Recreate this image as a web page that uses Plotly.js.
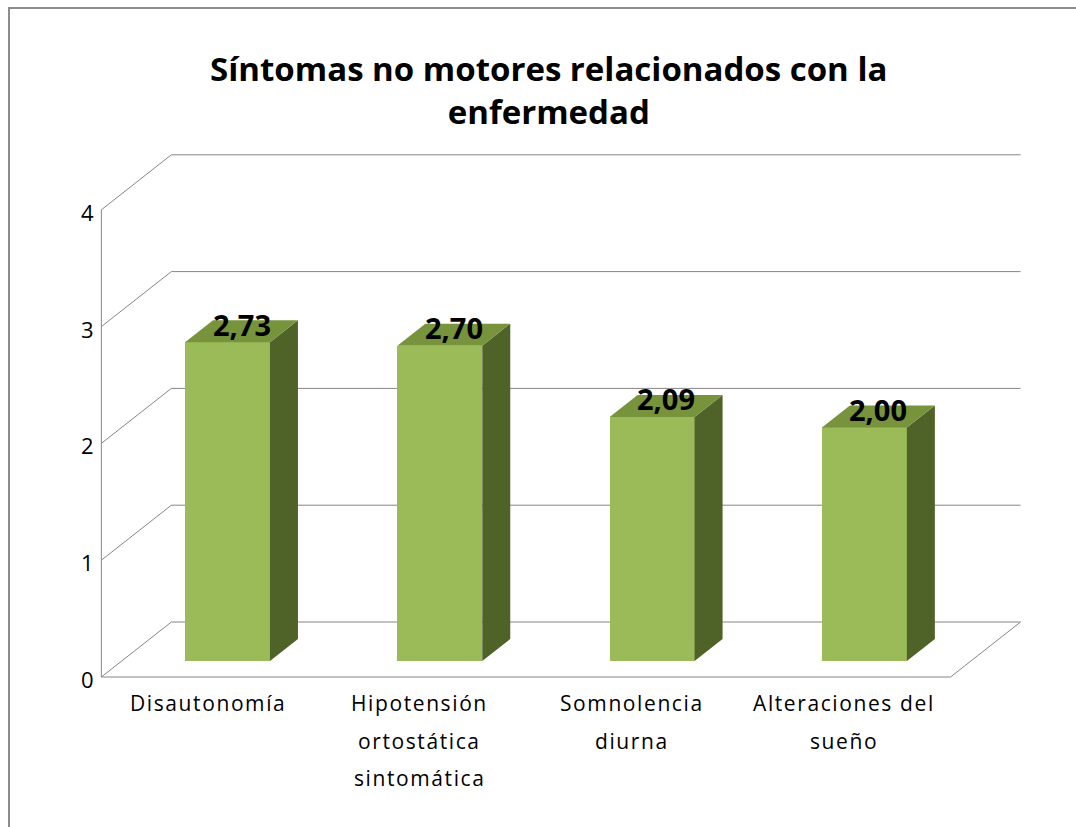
<!DOCTYPE html>
<html>
<head>
<meta charset="utf-8">
<script src="https://cdn.plot.ly/plotly-3.0.1.min.js"></script>
<style>html,body{margin:0;padding:0;background:#fff;}#chart{width:1076px;height:827px;}</style>
</head>
<body>
<div id="chart"></div>
<script>
// ---- data ----
const categories = ["Disautonomía", "Hipotensión<br>ortostática<br>sintomática", "Somnolencia<br>diurna", "Alteraciones del<br>sueño"];
const values = [2.73, 2.70, 2.09, 2.00];
const yTickValues = [0, 1, 2, 3, 4];
const yTickLabels = ["0", "1", "2", "3", "4"];
const chartTitle = "Síntomas no motores relacionados con la<br>enfermedad";

// ---- layout constants (pixel geometry) ----
const W = 1076, H = 827;
const ml = 26, mr = 10, mt = 140, mb = 127;
const X0 = 227.5, XU = 212.3;   // px of first category, px per category
const Y0 = 661, YU = 116.8;     // px of value 0 (bar plane), px per unit
const xRange = [(ml - X0) / XU, (W - mr - X0) / XU];
const yRange = [(Y0 - (H - mb)) / YU, (Y0 - mt) / YU];

// oblique depth offsets (in axis units)
const FDX = -20 / XU, FDY = -16 / YU;   // front plane relative to bar plane
const BDX = 50 / XU, BDY = 39 / YU;     // back wall relative to bar plane
const DDX = 28 / XU, DDY = 22 / YU;     // bar depth
const HALF = 0.2;                       // half bar width
const LEFT = -0.5, RIGHT = categories.length - 0.5;

const GRID = "#868686";
const FRONT_C = "#9BBB59", SIDE_C = "#4F6228", TOP_C = "#77933C";
const FONT = "'Open Sans', 'Noto Sans', sans-serif";

const xs = categories.map((_, i) => i);

// ---- shapes: walls & grid ----
const shapes = [];
function line(x0, y0, x1, y1, w) {
  shapes.push({type: "line", xref: "x", yref: "y", x0, y0, x1, y1, layer: "below",
               line: {color: GRID, width: w || 1}});
}
yTickValues.forEach(v => {
  line(LEFT + FDX, v + FDY, LEFT + BDX, v + BDY);          // left wall diagonal
  line(LEFT + BDX, v + BDY, RIGHT + BDX, v + BDY);         // back wall horizontal
});
const vMax = yTickValues[yTickValues.length - 1];
line(LEFT + FDX, FDY, LEFT + FDX, vMax + FDY);              // front value axis
line(LEFT + FDX, FDY, RIGHT + FDX, FDY, 1.2);               // floor front edge
line(RIGHT + FDX, FDY, RIGHT + BDX, BDY);                   // floor right edge
// outer chart border (paper coords)
const pw = W - ml - mr, ph = H - mt - mb;
shapes.push({type: "rect", xref: "paper", yref: "paper",
  x0: (9 - ml) / pw, x1: (W + 20 - ml) / pw,
  y0: 1 - (H + 20 - mt) / ph, y1: 1 - (8 - mt) / ph,
  line: {color: "#8c8c8c", width: 2}, fillcolor: "rgba(0,0,0,0)", layer: "below"});

// ---- traces ----
const traces = [];
traces.push({type: "bar", x: xs, y: values, base: 0, width: 2 * HALF,
  marker: {color: FRONT_C, line: {width: 0}}, hoverinfo: "skip", showlegend: false});
values.forEach((v, i) => {
  traces.push({type: "scatter", mode: "lines", fill: "toself", fillcolor: SIDE_C,
    line: {width: 0, color: SIDE_C}, hoverinfo: "skip", showlegend: false,
    x: [i + HALF, i + HALF + DDX, i + HALF + DDX, i + HALF, i + HALF],
    y: [0, DDY, v + DDY, v, 0]});
  traces.push({type: "scatter", mode: "lines", fill: "toself", fillcolor: TOP_C,
    line: {width: 0, color: TOP_C}, hoverinfo: "skip", showlegend: false,
    x: [i - HALF, i - HALF + DDX, i + HALF + DDX, i + HALF, i - HALF],
    y: [v, v + DDY, v + DDY, v, v]});
});

// ---- annotations ----
const annotations = [];
values.forEach((v, i) => {
  annotations.push({xref: "x", yref: "y", x: i + DDX / 2, y: v + DDY / 2, yshift: 7,
    text: v.toFixed(2).replace(".", ","), showarrow: false,
    font: {family: FONT, size: 29, color: "#000", weight: 700}});
});
yTickValues.forEach((v, k) => {
  annotations.push({xref: "x", yref: "y", x: LEFT + FDX, y: v + FDY, xanchor: "right",
    xshift: -5, yshift: -2, text: yTickLabels[k], showarrow: false,
    font: {family: FONT, size: 22, color: "#000"}});
});
categories.forEach((c, i) => {
  c.split("<br>").forEach((ln, k) => {
    annotations.push({xref: "x", yref: "y", x: i + FDX, y: FDY, yanchor: "middle",
      yshift: -26 - 37.5 * k,
      text: '<span style="letter-spacing:1.6px">' + ln + '</span>', showarrow: false,
      font: {family: FONT, size: 21, color: "#000"}});
  });
});

const layout = {
  width: W, height: H,
  margin: {l: ml, r: mr, t: mt, b: mb, pad: 0},
  paper_bgcolor: "#fff", plot_bgcolor: "rgba(0,0,0,0)",
  title: {text: chartTitle, x: 0.51, xanchor: "center", y: 0.902, yanchor: "top",
          font: {family: FONT, size: 33, color: "#000", weight: 700}},
  xaxis: {range: xRange, visible: false, fixedrange: true},
  yaxis: {range: yRange, visible: false, fixedrange: true},
  showlegend: false, bargap: 0,
  shapes, annotations
};

Plotly.newPlot("chart", traces, layout, {displayModeBar: false, staticPlot: true});
</script>
</body>
</html>
